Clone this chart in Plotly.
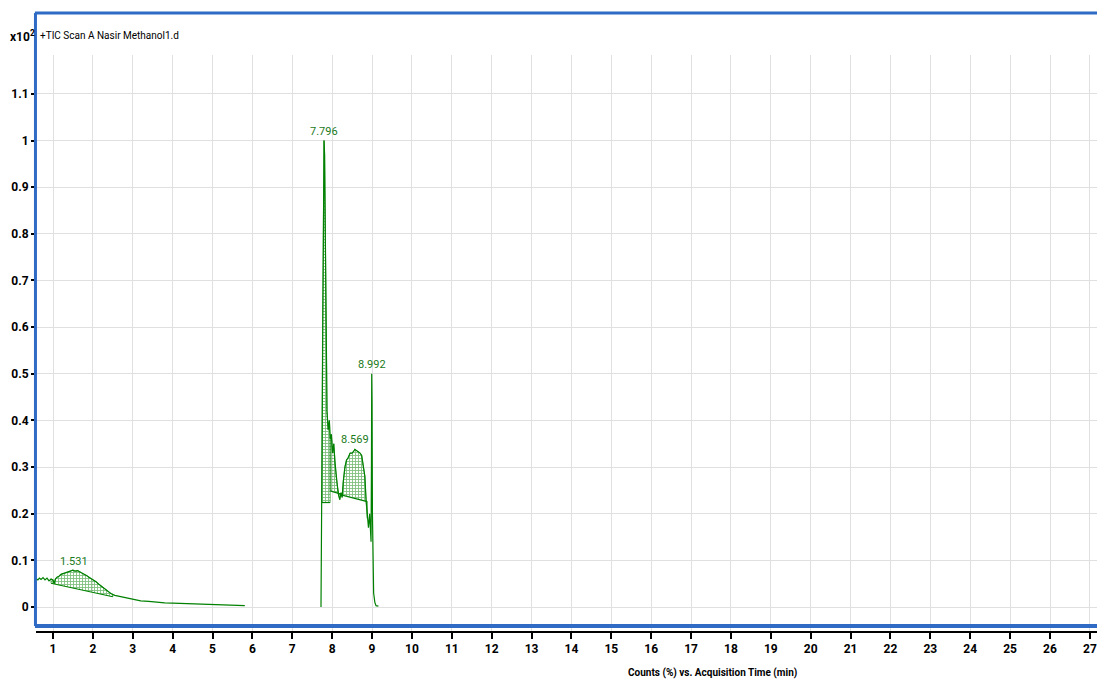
import numpy as np
import plotly.graph_objects as go

# ---------------- data ----------------
time_a = [0.574, 0.62, 0.66, 0.70, 0.75, 0.80, 0.85, 0.90, 0.95, 1.00, 1.03, 1.06, 1.10,
          1.15, 1.20, 1.28, 1.35, 1.42, 1.50, 1.55, 1.62, 1.70, 1.78, 1.85, 1.92, 2.00,
          2.08, 2.15, 2.22, 2.30, 2.38, 2.45, 2.55, 2.65, 2.75, 2.90, 3.05, 3.20, 3.40,
          3.60, 3.80, 4.00, 4.20, 4.40, 4.60, 4.80, 5.00, 5.20, 5.40, 5.60, 5.81]
counts_a = [0.061, 0.058, 0.062, 0.059, 0.063, 0.058, 0.062, 0.056, 0.060, 0.058, 0.050, 0.060, 0.064,
            0.066, 0.070, 0.072, 0.074, 0.076, 0.079, 0.077, 0.078, 0.074, 0.071, 0.067, 0.063, 0.059,
            0.054, 0.049, 0.044, 0.038, 0.033, 0.029, 0.025, 0.023, 0.021, 0.018, 0.015, 0.013, 0.012,
            0.010, 0.009, 0.0085, 0.008, 0.007, 0.0065, 0.0058, 0.005, 0.0045, 0.004, 0.0035, 0.003]

time_b = [7.72, 7.74, 7.76, 7.78, 7.796, 7.81, 7.83, 7.85, 7.87, 7.90, 7.93, 7.95, 7.98,
          8.01, 8.04, 8.07, 8.10, 8.13, 8.16, 8.19, 8.22, 8.25, 8.28, 8.32, 8.36, 8.40,
          8.45, 8.50, 8.55, 8.569, 8.60, 8.65, 8.70, 8.74, 8.78, 8.82, 8.85, 8.88, 8.91,
          8.94, 8.96, 8.975, 8.985, 8.992, 9.00, 9.01, 9.02, 9.04, 9.07, 9.10, 9.16]
counts_b = [0.0, 0.25, 0.62, 0.92, 1.0, 0.97, 0.80, 0.55, 0.42, 0.38, 0.40, 0.36, 0.37,
            0.33, 0.35, 0.31, 0.28, 0.26, 0.24, 0.23, 0.245, 0.235, 0.27, 0.30, 0.315, 0.32,
            0.33, 0.33, 0.335, 0.338, 0.336, 0.333, 0.33, 0.325, 0.30, 0.28, 0.23, 0.19, 0.17,
            0.20, 0.15, 0.14, 0.30, 0.50, 0.44, 0.20, 0.08, 0.03, 0.01, 0.003, 0.002]

peak_rt = [1.531, 7.796, 8.569, 8.992]
peak_height = [0.078, 1.0, 0.338, 0.50]
peak_labels = ["1.531", "7.796", "8.569", "8.992"]

int_start = [0.95, 7.74, 7.95, 8.25]
int_end = [2.50, 7.95, 8.22, 8.88]
base_start = [0.051, 0.224, 0.249, 0.240]
base_end = [0.022, 0.224, 0.242, 0.226]

x_ticks = list(range(1, 28))
y_ticks = [0, 0.1, 0.2, 0.3, 0.4, 0.5, 0.6, 0.7, 0.8, 0.9, 1.0, 1.1]
y_tick_labels = ["0", "0.1", "0.2", "0.3", "0.4", "0.5", "0.6", "0.7", "0.8", "0.9", "1", "1.1"]

title_text = "+TIC Scan A Nasir Methanol1.d"
x_title = "Counts (%) vs. Acquisition Time (min)"

# ---------------- style ----------------
GREEN = "#008000"
BLUE = "#2f6bc4"
NARROW = "Roboto, Liberation Sans, sans-serif"

fig = go.Figure()

# integrated (hatched) areas
ta, ca = np.array(time_a), np.array(counts_a)
tb, cb = np.array(time_b), np.array(counts_b)
for s, e, bs, be in zip(int_start, int_end, base_start, base_end):
    t, c = (ta, ca) if s < 6 else (tb, cb)
    m = (t > s) & (t < e)
    xs = [s, s] + list(t[m]) + [e, e]
    ys = [bs, float(np.interp(s, t, c))] + list(c[m]) + [float(np.interp(e, t, c)), be]
    fig.add_trace(go.Scatter(
        x=xs, y=ys, mode="lines", fill="toself",
        line=dict(color=GREEN, width=0.6),
        fillcolor="rgba(0,0,0,0)",
        fillpattern=dict(shape="+", size=3, solidity=0.5, fgcolor=GREEN,
                         bgcolor="rgba(255,255,255,0)"),
        hoverinfo="skip", showlegend=False))
    fig.add_trace(go.Scatter(x=[s, e], y=[bs, be], mode="lines",
                             line=dict(color=GREEN, width=1.2),
                             hoverinfo="skip", showlegend=False))

# chromatogram
fig.add_trace(go.Scatter(x=time_a, y=counts_a, mode="lines",
                         line=dict(color=GREEN, width=1.2), showlegend=False))
fig.add_trace(go.Scatter(x=time_b, y=counts_b, mode="lines",
                         line=dict(color=GREEN, width=1.2), showlegend=False))

# peak labels
for rt, h, lab in zip(peak_rt, peak_height, peak_labels):
    fig.add_annotation(x=rt, y=h, text=lab, showarrow=False, yanchor="bottom",
                       yshift=1, font=dict(family=NARROW, size=11, color="#1a7a1a"))

# header texts
fig.add_annotation(xref="paper", yref="paper", x=-0.0262, y=1.033, xanchor="left",
                   yanchor="middle", text="x10<sup>2</sup>", showarrow=False,
                   font=dict(family=NARROW, size=12, color="black", weight="bold"))
fig.add_annotation(xref="paper", yref="paper", x=0.0019, y=1.033, xanchor="left",
                   yanchor="middle", text=title_text, showarrow=False,
                   font=dict(family=NARROW, size=10, color="black"))
fig.add_annotation(xref="paper", yref="paper", x=0.6324, y=-0.073, xanchor="center",
                   yanchor="middle", text=x_title, showarrow=False,
                   font=dict(family=NARROW, size=10, color="black", weight="bold"))

# blue frame
fig.add_shape(type="line", xref="paper", yref="paper", x0=-0.001, x1=1.0, y0=1.0729, y1=1.0729,
              line=dict(color=BLUE, width=3), layer="above")
fig.add_shape(type="line", xref="paper", yref="paper", x0=-0.0005, x1=-0.0005, y0=0.0087, y1=1.0729,
              line=dict(color=BLUE, width=3), layer="above")
fig.add_shape(type="line", xref="paper", yref="paper", x0=-0.001, x1=1.0, y0=0.0087, y1=0.0087,
              line=dict(color=BLUE, width=4), layer="above")

fig.update_layout(
    width=1097, height=673,
    margin=dict(l=28, r=0, t=47, b=50),
    paper_bgcolor="white", plot_bgcolor="white",
    xaxis=dict(range=[0.5737, 27.379], tickvals=x_ticks, showgrid=True,
               gridcolor="#e0e0e0", gridwidth=1, zeroline=False,
               showline=True, linecolor="black", linewidth=2,
               ticks="outside", ticklen=6, tickwidth=2, tickcolor="black",
               tickfont=dict(family=NARROW, size=12, color="black", weight="bold")),
    yaxis=dict(range=[-0.0514, 1.1833], tickvals=y_ticks, ticktext=y_tick_labels,
               showgrid=True, gridcolor="#e0e0e0", gridwidth=1, zeroline=False,
               showline=False, ticks="outside", ticklen=4, tickwidth=1.5,
               tickcolor="black",
               tickfont=dict(family=NARROW, size=12, color="black", weight="bold")),
)

fig.write_html("out.html")
